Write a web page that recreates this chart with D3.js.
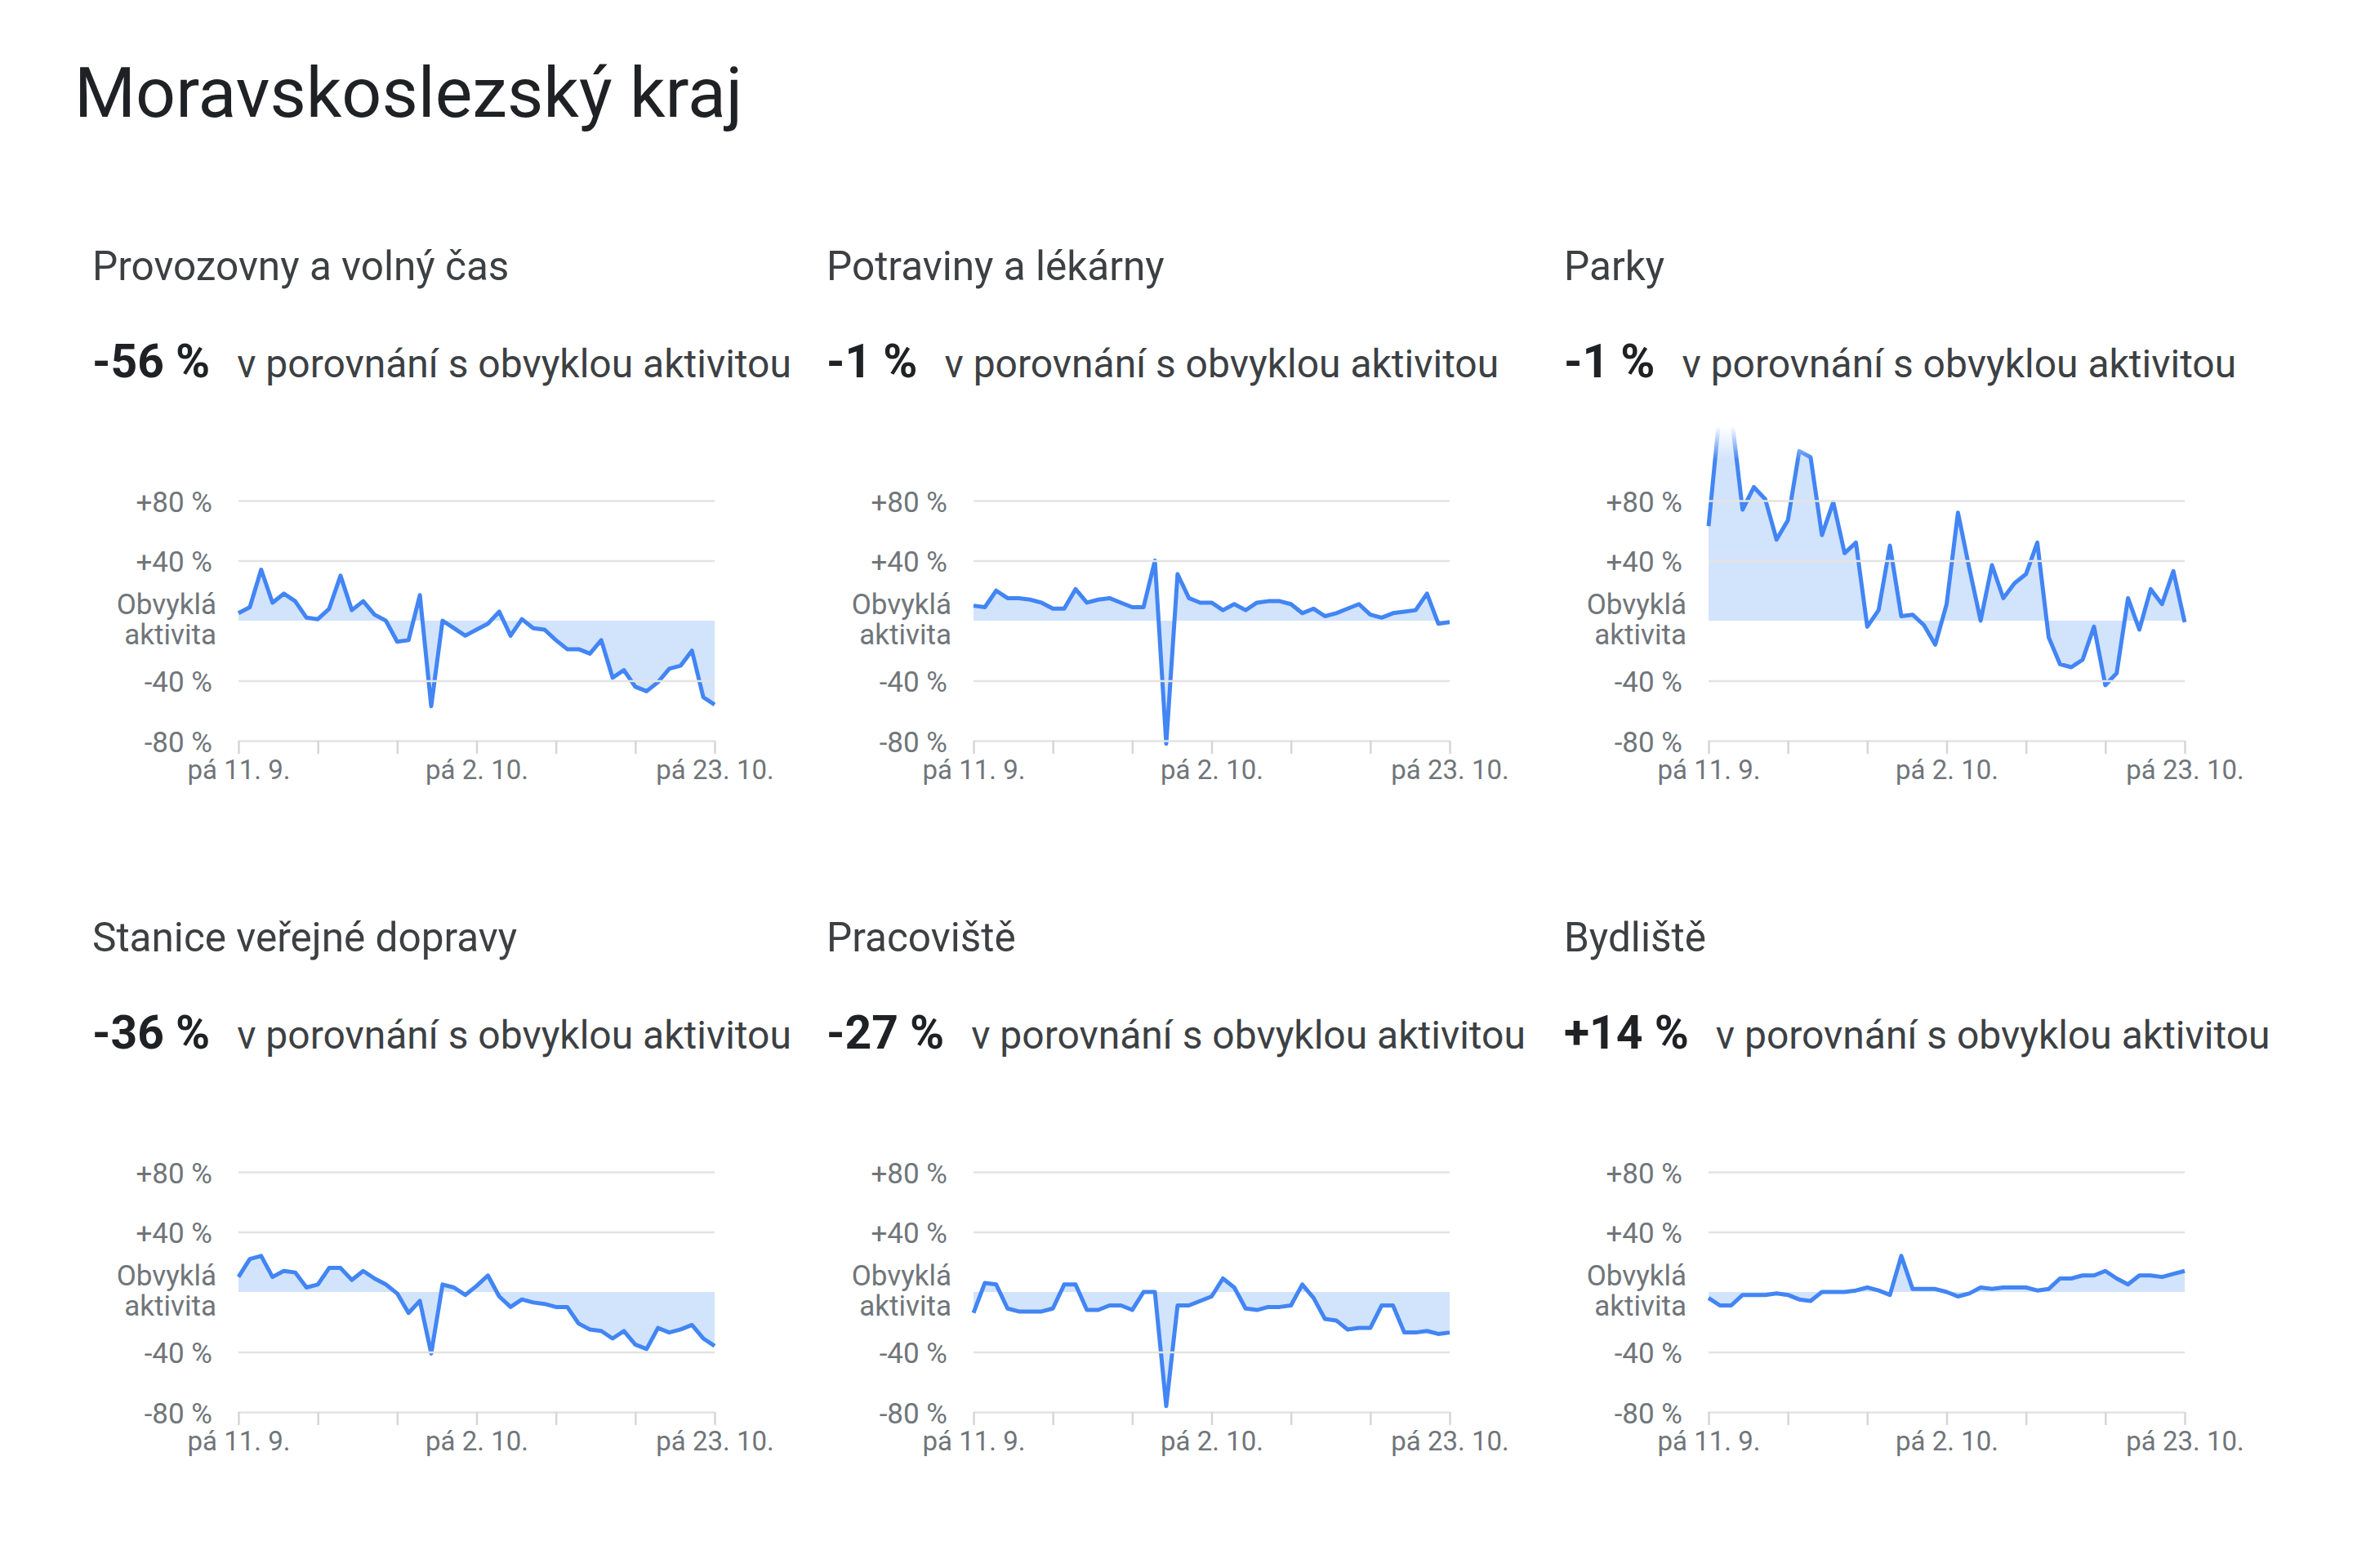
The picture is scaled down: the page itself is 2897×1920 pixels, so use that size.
<!DOCTYPE html>
<html>
<head>
<meta charset="utf-8">
<script src="https://cdn.jsdelivr.net/npm/d3@7"></script>
<style>
  html, body { margin: 0; padding: 0; background: #ffffff; }
  svg { display: block; font-family: Roboto, "Noto Sans", sans-serif; }
</style>
</head>
<body>
<svg id="chart" width="2897" height="1920"></svg>
<script>
// ---------- data ----------
const regionTitle = "Moravskoslezský kraj";
const categories = ["Provozovny a volný čas", "Potraviny a lékárny", "Parky",
                    "Stanice veřejné dopravy", "Pracoviště", "Bydliště"];
const headlines = ["-56 %", "-1 %", "-1 %", "-36 %", "-27 %", "+14 %"];
const comparisonText = "v porovnání s obvyklou aktivitou";
const startDate = new Date(2020, 8, 11); // pá 11. 9.
const yTickValues = [-80, -40, 40, 80];
const yTickLabels = ["-80 %", "-40 %", "+40 %", "+80 %"];
const baselineLabel = ["Obvyklá", "aktivita"];
const xTickLabels = ["pá 11. 9.", "", "", "pá 2. 10.", "", "", "pá 23. 10."];

const leisure = [5, 9, 34, 12, 18, 13, 2, 1, 8, 30, 7, 13, 4, 0, -14, -13, 17, -57, 0, -5, -10,
                 -6, -2, 6, -10, 1, -5, -6, -13, -19, -19, -22, -13, -38, -33, -44, -47, -41, -32, -30, -20, -51, -56];
const grocery = [10, 9, 20, 15, 15, 14, 12, 8, 8, 21, 12, 14, 15, 12, 9, 9, 40, -82, 31, 15, 12,
                 12, 7, 11, 7, 12, 13, 13, 11, 5, 8, 3, 5, 8, 11, 4, 2, 5, 6, 7, 18, -2, -1];
const parks = [63, 140, 138, 74, 89, 81, 54, 67, 113, 109, 57, 79, 45, 52, -4, 7, 50, 3, 4, -3, -16,
               11, 72, 35, 0, 37, 15, 25, 31, 52, -11, -29, -31, -26, -4, -43, -35, 15, -6, 21, 11, 33, -1];
const transit = [10, 22, 24, 10, 14, 13, 3, 5, 16, 16, 8, 14, 9, 5, -1, -14, -6, -41, 5, 3, -2,
                 4, 11, -3, -10, -5, -7, -8, -10, -10, -21, -25, -26, -31, -26, -35, -38, -24, -27, -25, -22, -31, -36];
const workplaces = [-14, 6, 5, -11, -13, -13, -13, -11, 5, 5, -12, -12, -9, -9, -12, 0, 0, -76, -9, -9, -6,
                    -3, 9, 3, -11, -12, -10, -10, -9, 5, -4, -18, -19, -25, -24, -24, -9, -9, -27, -27, -26, -28, -27];
const residential = [-4, -9, -9, -2, -2, -2, -1, -2, -5, -6, 0, 0, 0, 1, 3, 1, -2, 24, 2, 2, 2,
                     0, -3, -1, 3, 2, 3, 3, 3, 1, 2, 9, 9, 11, 11, 14, 9, 5, 11, 11, 10, 12, 14];
const seriesList = [leisure, grocery, parks, transit, workplaces, residential];

// ---------- layout ----------
const plotLefts = [292, 1192, 2092];
const plotTops = [613, 1435];
const plotW = 583, plotH = 294;
const textLefts = [113, 1012, 1915];
const rowStep = 822;

const dates = leisure.map((_, i) => d3.timeDay.offset(startDate, i));
const weekTicks = xTickLabels.map((_, i) => d3.timeDay.offset(startDate, i * 7));

const svg = d3.select("#chart");
const defs = svg.append("defs");

svg.append("text")
  .attr("x", 91).attr("y", 143)
  .attr("font-size", 86).attr("fill", "#202124")
  .text(regionTitle);

categories.forEach((name, k) => {
  const col = k % 3, row = Math.floor(k / 3);
  const values = seriesList[k];
  const left = plotLefts[col], top = plotTops[row];
  const tx = textLefts[col];

  // headings
  svg.append("text")
    .attr("x", tx).attr("y", 343 + row * rowStep)
    .attr("font-size", 49.5).attr("fill", "#3c4043")
    .text(name);
  const val = svg.append("text")
    .attr("x", tx).attr("y", 462 + row * rowStep)
    .attr("font-size", 57).attr("font-weight", "bold").attr("fill", "#202124")
    .text(headlines[k]);
  const vw = val.node().getComputedTextLength();
  svg.append("text")
    .attr("x", tx + vw + 33).attr("y", 462 + row * rowStep)
    .attr("font-size", 48).attr("fill", "#3c4043")
    .text(comparisonText);

  // scales
  const x = d3.scaleTime().domain([dates[0], dates[dates.length - 1]]).range([0, plotW]);
  const y = d3.scaleLinear().domain([-80, 80]).range([plotH, 0]);

  const g = svg.append("g").attr("transform", `translate(${left},${top})`);

  // fade mask at the top of the plot
  const gid = "fade" + k, mid = "mask" + k;
  const grad = defs.append("linearGradient").attr("id", gid)
    .attr("gradientUnits", "userSpaceOnUse")
    .attr("x1", 0).attr("x2", 0).attr("y1", -91).attr("y2", -50);
  grad.append("stop").attr("offset", 0).attr("stop-color", "#000");
  grad.append("stop").attr("offset", 1).attr("stop-color", "#fff");
  const mask = defs.append("mask").attr("id", mid)
    .attr("maskUnits", "userSpaceOnUse")
    .attr("x", -20).attr("y", -91).attr("width", plotW + 40).attr("height", plotH + 200);
  mask.append("rect").attr("x", -20).attr("y", -91)
    .attr("width", plotW + 40).attr("height", plotH + 200)
    .attr("fill", `url(#${gid})`);

  const dataG = g.append("g").attr("mask", `url(#${mid})`);

  const pts = values.map((v, i) => ({ d: dates[i], v }));
  dataG.append("path")
    .datum(pts)
    .attr("fill", "#d2e3fc")
    .attr("d", d3.area().x(p => x(p.d)).y0(y(0)).y1(p => y(p.v)));

  // y gridlines and labels
  const yAxis = g.append("g")
    .call(d3.axisLeft(y).tickValues(yTickValues)
      .tickFormat((d, i) => yTickLabels[i])
      .tickSize(-plotW).tickPadding(32));
  yAxis.select(".domain").remove();
  yAxis.selectAll("line").attr("stroke", "#e3e3e3").attr("stroke-width", 2.5);
  yAxis.selectAll("text")
    .attr("font-size", 35).attr("fill", "#70757a")
    .attr("font-family", "Roboto, sans-serif").attr("dy", "0.38em");

  // baseline label
  baselineLabel.forEach((t, i) => {
    g.append("text")
      .attr("x", -27).attr("y", y(0) + (i === 0 ? -8 : 29))
      .attr("text-anchor", "end")
      .attr("font-size", 35).attr("fill", "#70757a")
      .text(t);
  });

  // x axis ticks
  const xAxis = g.append("g")
    .attr("transform", `translate(0,${plotH})`)
    .call(d3.axisBottom(x).tickValues(weekTicks)
      .tickFormat((d, i) => xTickLabels[i])
      .tickSize(16).tickPadding(8));
  xAxis.select(".domain").remove();
  xAxis.selectAll("line").attr("stroke", "#d6d6d6").attr("stroke-width", 2.5);
  xAxis.selectAll("text")
    .attr("font-size", 33).attr("fill", "#70757a")
    .attr("font-family", "Roboto, sans-serif");

  // line
  dataG.append("path")
    .datum(pts)
    .attr("fill", "none")
    .attr("stroke", "#4285f4")
    .attr("stroke-width", 5)
    .attr("stroke-linejoin", "round")
    .attr("d", d3.line().x(p => x(p.d)).y(p => y(p.v)));
});
</script>
</body>
</html>
